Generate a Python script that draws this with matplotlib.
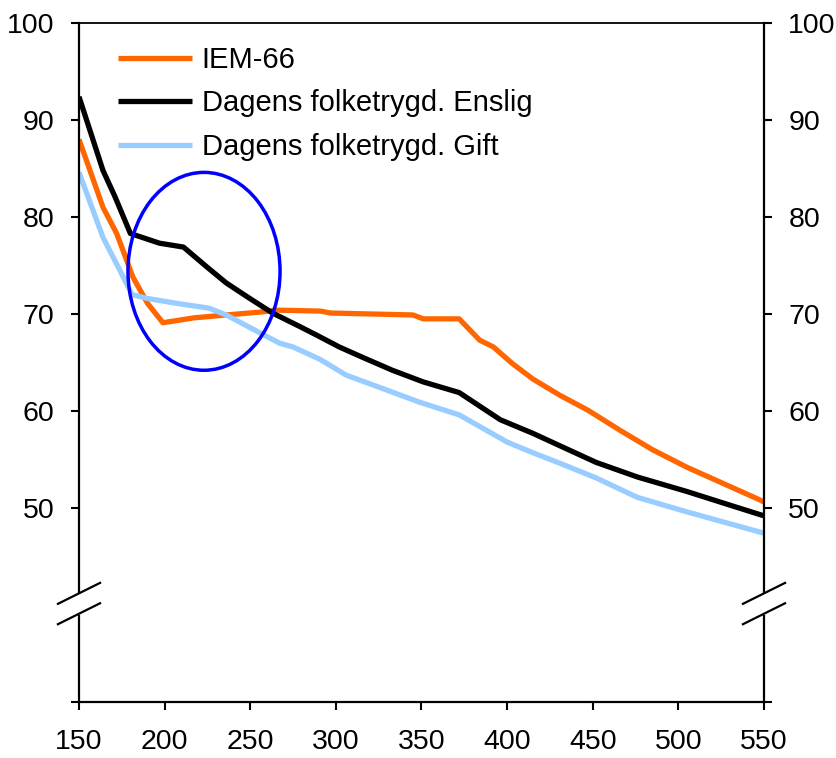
import matplotlib
matplotlib.use("Agg")
import matplotlib.pyplot as plt
from matplotlib.patches import Ellipse

plt.rcParams['font.family'] = ['Liberation Sans', 'DejaVu Sans']

# ---- data ----
iem_x = [150, 164, 172, 181.5, 190, 199, 217, 236, 256, 265, 291, 297, 345, 351, 372,
         384, 392, 403, 415, 431, 447, 466, 485, 505, 524, 548, 550]
iem_y = [88.0, 81.0, 78.3, 73.8, 71.1, 69.1, 69.6, 69.9, 70.2, 70.4, 70.3, 70.1, 69.9, 69.5, 69.5,
         67.3, 66.6, 64.9, 63.3, 61.6, 60.1, 58.0, 56.0, 54.2, 52.7, 50.8, 50.6]

enslig_x = [150, 164, 171, 180, 197, 211, 225, 236, 248, 263, 279, 289, 302, 316, 333, 351,
            372, 396, 415, 431, 452, 476, 505, 530, 548, 550]
enslig_y = [92.4, 84.8, 82.1, 78.3, 77.3, 76.9, 74.8, 73.2, 71.8, 70.1, 68.7, 67.8, 66.6, 65.5,
            64.2, 63.0, 61.9, 59.1, 57.7, 56.4, 54.7, 53.2, 51.7, 50.3, 49.3, 49.2]

gift_x = [150, 164, 173, 181, 190, 207, 226, 236, 252, 267, 275, 291, 306, 326, 349, 372,
          400, 415, 431, 452, 476, 505, 548, 550]
gift_y = [84.6, 77.9, 74.8, 72.0, 71.6, 71.1, 70.6, 69.9, 68.4, 67.0, 66.6, 65.3, 63.7, 62.4,
          60.9, 59.6, 56.8, 55.7, 54.6, 53.1, 51.1, 49.6, 47.5, 47.4]

labels = ["IEM-66", "Dagens folketrygd. Enslig", "Dagens folketrygd. Gift"]
colors = ["#FF6600", "#000000", "#99CCFF"]

x_ticks = [150, 200, 250, 300, 350, 400, 450, 500, 550]
y_ticks = [30, 50, 60, 70, 80, 90, 100]
y_ticklabels = ["", "50", "60", "70", "80", "90", "100"]

W, H = 837, 758
fig = plt.figure(figsize=(W / 100, H / 100), dpi=100)
ax = fig.add_axes([79 / W, 1 - 702 / H, (764 - 79) / W, (702 - 23) / H])

for xs, ys, lab, c in zip([iem_x, enslig_x, gift_x], [iem_y, enslig_y, gift_y], labels, colors):
    ax.plot(xs, ys, color=c, lw=3.8, label=lab, solid_capstyle='butt')

ax.set_xlim(150, 550)
ax.set_ylim(30, 100)
ax.set_xticks(x_ticks)
ax.set_xticklabels([str(v) for v in x_ticks])
ax.set_yticks(y_ticks)
ax.set_yticklabels(y_ticklabels)

for s in ax.spines.values():
    s.set_linewidth(1.6)
    s.set_color('black')
ax.spines['top'].set_linewidth(1.3)

ax.tick_params(axis='y', which='both', direction='out', length=5.5, width=1.5,
               left=True, right=True, labelleft=True, labelright=True,
               labelsize=20.5, pad=12)
ax.tick_params(axis='x', direction='out', length=5.5, width=1.5, labelsize=20.5, pad=14)

# ellipse highlight
ax.add_patch(Ellipse((223, 74.4), 88.8, 20.4, fill=False, edgecolor='#0000FF', lw=2.5, zorder=5))

# axis break marks
dx = 12.3
dy = 1.08
for xa in (150, 550):
    ax.plot([xa, xa], [39.0, 41.1], color='white', lw=4, clip_on=False, zorder=10,
            solid_capstyle='butt')
    for yc in (41.2, 39.1):
        ax.plot([xa - dx, xa + dx], [yc - dy, yc + dy], color='black', lw=1.6,
                clip_on=False, zorder=11)

leg = ax.legend(loc='upper left', bbox_to_anchor=(118 / W, 1 - 46 / H),
                bbox_transform=fig.transFigure, frameon=False, fontsize=21,
                handlelength=2.53, handletextpad=0.34, labelspacing=0.53,
                borderpad=0, borderaxespad=0)

fig.savefig("out.png", dpi=100, facecolor='white')
